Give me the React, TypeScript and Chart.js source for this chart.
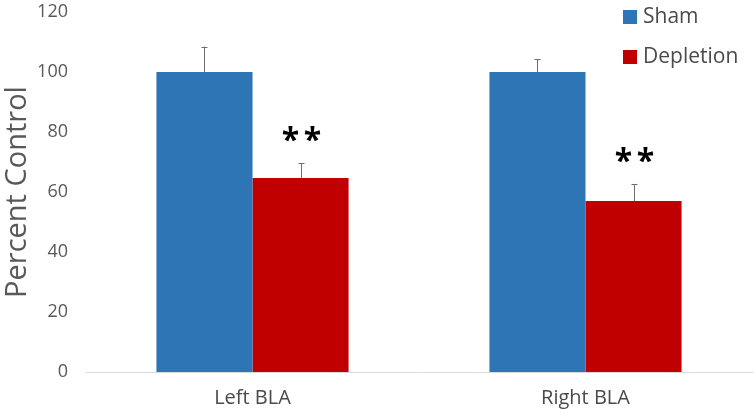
import React, { useEffect, useRef } from "react";
import { Chart, registerables } from "chart.js";

Chart.register(...registerables);

const categories = ["Left BLA", "Right BLA"];
const seriesNames = ["Sham", "Depletion"];
const shamValues = [100, 100];
const depletionValues = [64.7, 57];
const shamErrors = [8.5, 4.3];
const depletionErrors = [5, 5.7];
const significance = ["**", "**"];
const yTicks = [0, 20, 40, 60, 80, 100, 120];

const BLUE = "#2E75B6";
const RED = "#C00000";
const FONT = "'Open Sans', 'Noto Sans', sans-serif";

const errorPlugin = {
  id: "errorBars",
  afterDatasetsDraw(chart: any) {
    const ctx = chart.ctx;
    const y = chart.scales.y;
    const errs = [shamErrors, depletionErrors];
    ctx.save();
    chart.data.datasets.forEach((ds: any, di: number) => {
      const meta = chart.getDatasetMeta(di);
      meta.data.forEach((bar: any, i: number) => {
        const v = ds.data[i];
        const top = y.getPixelForValue(v + errs[di][i]);
        const base = y.getPixelForValue(v);
        const x = Math.round(bar.x) + 0.5;
        ctx.strokeStyle = "#6e6e6e";
        ctx.lineWidth = 1;
        ctx.beginPath();
        ctx.moveTo(x, base);
        ctx.lineTo(x, top);
        ctx.moveTo(x - 3, Math.round(top) + 0.5);
        ctx.lineTo(x + 3, Math.round(top) + 0.5);
        ctx.stroke();
        if (di === 1) {
          ctx.fillStyle = "#000";
          ctx.font = `bold 32px ${FONT}`;
          ctx.textAlign = "center";
          ctx.textBaseline = "middle";
          const s = significance[i];
          const w = 22;
          ctx.fillText(s[0], x - w / 2, top - 21);
          ctx.fillText(s[1], x + w / 2, top - 21);
        }
      });
    });
    // legend
    const items = [
      { name: seriesNames[0], color: BLUE, cy: 17 },
      { name: seriesNames[1], color: RED, cy: 57 },
    ];
    ctx.font = `21px ${FONT}`;
    ctx.textAlign = "left";
    ctx.textBaseline = "middle";
    items.forEach((it) => {
      ctx.fillStyle = it.color;
      ctx.fillRect(623, it.cy - 7, 14, 14);
      ctx.fillStyle = "#4a4a4a";
      ctx.fillText(it.name, 643, it.cy);
    });
    ctx.restore();
  },
};

export default function App() {
  const ref = useRef<HTMLCanvasElement>(null);
  useEffect(() => {
    if (!ref.current) return;
    const chart = new Chart(ref.current, {
      type: "bar",
      data: {
        labels: categories,
        datasets: [
          {
            label: seriesNames[0],
            data: shamValues,
            backgroundColor: BLUE,
            categoryPercentage: 0.577,
            barPercentage: 1,
          },
          {
            label: seriesNames[1],
            data: depletionValues,
            backgroundColor: RED,
            categoryPercentage: 0.577,
            barPercentage: 1,
          },
        ],
      },
      options: {
        animation: false,
        responsive: false,
        maintainAspectRatio: false,
        layout: { padding: { left: 0, right: 4, top: 0, bottom: 0 } },
        plugins: {
          legend: { display: false },
          tooltip: { enabled: false },
        },
        scales: {
          x: {
            grid: { display: false, drawTicks: false },
            border: { display: true, color: "#d9d9d9", width: 1 },
            ticks: {
              color: "#4a4a4a",
              font: { family: FONT, size: 20 },
              padding: 14,
            },
            afterFit(scale: any) {
              scale.height = 48;
              scale.paddingLeft = 0;
              scale.paddingRight = 0;
            },
          },
          y: {
            min: 0,
            max: 120,
            grid: { display: false, drawTicks: false },
            border: { display: false },
            afterBuildTicks(scale: any) {
              scale.ticks = yTicks.map((v) => ({ value: v }));
            },
            ticks: {
              color: "#595959",
              font: { family: FONT, size: 18 },
              padding: 18,
            },
            title: {
              display: true,
              text: "Percent Control",
              color: "#595959",
              font: { family: FONT, size: 29 },
              padding: { top: 0, bottom: 0 },
            },
            afterFit(scale: any) {
              scale.width = 86;
              scale.paddingTop = 12;
              scale.paddingBottom = 0;
            },
          },
        },
      },
      plugins: [errorPlugin],
    });
    return () => chart.destroy();
  }, []);
  return (
    <div style={{ position: "absolute", left: 0, top: 0, width: 756, height: 420, background: "#fff" }}>
      <canvas ref={ref} width={756} height={420} style={{ width: 756, height: 420 }} />
    </div>
  );
}
